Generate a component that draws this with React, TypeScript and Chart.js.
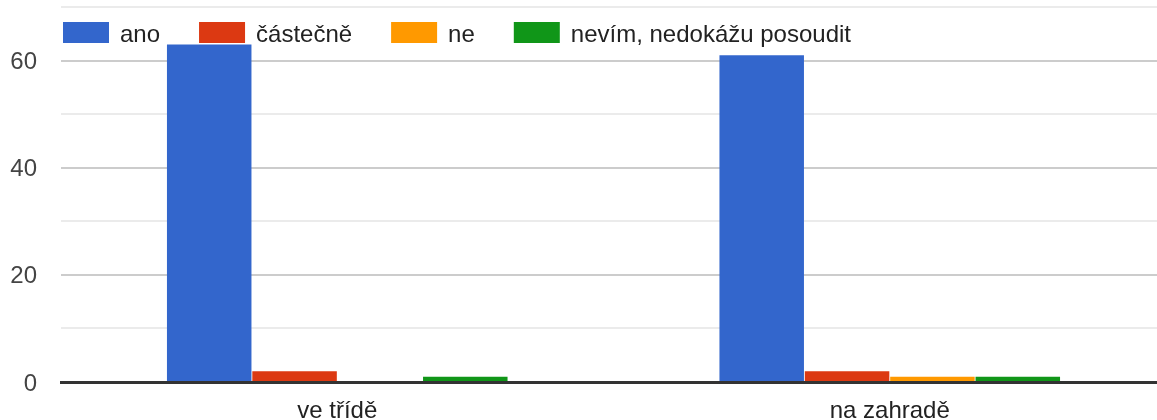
import React, { useEffect, useRef } from 'react';
import { Chart, registerables } from 'chart.js';

Chart.register(...registerables);

const categories = ['ve třídě', 'na zahradě'];
const seriesLabels = ['ano', 'částečně', 'ne', 'nevím, nedokážu posoudit'];
const anoValues = [63, 61];
const castecneValues = [2, 2];
const neValues = [0, 1];
const nevimValues = [1, 1];
const yLabeledTicks = [0, 20, 40, 60];
const yMax = 70;
const yStep = 10;

const seriesColors = ['#3366cc', '#dc3912', '#ff9900', '#109618'];
const FONT_FAMILY = 'Arial, "Liberation Sans", sans-serif';

const customLegend = {
  id: 'customLegend',
  afterDraw(chart: any) {
    const ctx = chart.ctx;
    ctx.save();
    ctx.font = `24px ${FONT_FAMILY}`;
    ctx.textBaseline = 'alphabetic';
    ctx.textAlign = 'left';
    let x = 63;
    const boxY = 22;
    const boxW = 46;
    const boxH = 21;
    chart.data.datasets.forEach((ds: any) => {
      ctx.fillStyle = ds.backgroundColor;
      ctx.fillRect(x, boxY, boxW, boxH);
      x += boxW + 11;
      ctx.fillStyle = '#222222';
      ctx.fillText(ds.label, x, 42);
      x += ctx.measureText(ds.label).width + 39;
    });
    ctx.restore();
  },
};

export default function App() {
  const canvasRef = useRef<HTMLCanvasElement | null>(null);

  useEffect(() => {
    if (!canvasRef.current) return;
    const seriesValues = [anoValues, castecneValues, neValues, nevimValues];
    const chart = new Chart(canvasRef.current, {
      type: 'bar',
      data: {
        labels: categories,
        datasets: seriesLabels.map((label, i) => ({
          label,
          data: seriesValues[i],
          backgroundColor: seriesColors[i],
          borderWidth: 0,
          categoryPercentage: 0.618,
          barPercentage: 0.99,
        })),
      },
      options: {
        animation: false,
        responsive: false,
        devicePixelRatio: 1,
        layout: { padding: { top: 7, left: 0, right: 0, bottom: 0 } },
        plugins: {
          legend: { display: false },
          tooltip: { enabled: false },
        },
        scales: {
          x: {
            type: 'category',
            z: 1,
            grid: { display: false, drawTicks: false },
            border: { display: true, color: '#333333', width: 3 },
            ticks: {
              color: '#222222',
              font: { family: FONT_FAMILY, size: 24 },
              padding: 15,
              maxRotation: 0,
            },
            afterFit(scale: any) {
              scale.height = 38;
            },
          },
          y: {
            min: 0,
            max: yMax,
            border: { display: false },
            grid: {
              drawTicks: false,
              lineWidth: 2,
              color: (c: any) => {
                const v = c.tick ? c.tick.value : 0;
                if (v === 0) return 'rgba(0,0,0,0)';
                return yLabeledTicks.includes(v) ? '#cccccc' : '#ebebeb';
              },
            },
            ticks: {
              stepSize: yStep,
              padding: 24,
              labelOffset: 2,
              color: '#444444',
              font: { family: FONT_FAMILY, size: 24 },
              callback: (v: any) => (yLabeledTicks.includes(Number(v)) ? String(v) : ''),
            },
            afterFit(scale: any) {
              scale.width = 61;
              scale.paddingTop = 0;
              scale.paddingBottom = 0;
            },
          },
        },
      },
      plugins: [customLegend],
    });
    return () => chart.destroy();
  }, []);

  return (
    <div style={{ position: 'absolute', left: 0, top: 0, width: 1157, height: 420, overflow: 'hidden', background: '#ffffff' }}>
      <canvas ref={canvasRef} width={1166} height={420} style={{ display: 'block' }} />
    </div>
  );
}
